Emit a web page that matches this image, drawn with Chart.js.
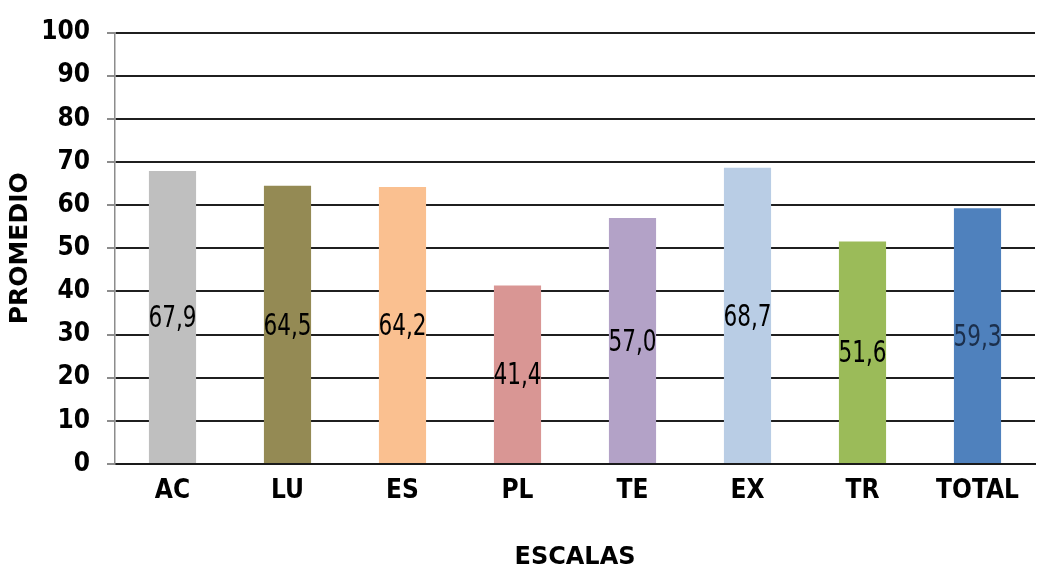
<!DOCTYPE html>
<html lang="es">
<head>
    <meta charset="UTF-8">
    <title>Promedio por escalas</title>
    <script src="https://cdn.jsdelivr.net/npm/chart.js"></script>
    <style>
        body {
            margin: 0;
            background: #ffffff;
        }

        #grafico {
            display: block;
        }
    </style>
</head>
<body>
    <canvas id="grafico" width="1042" height="570"></canvas>
    <script>
        // Escalas y promedios
        var escalas = ['AC', 'LU', 'ES', 'PL', 'TE', 'EX', 'TR', 'TOTAL'];
        var promedios = [67.9, 64.5, 64.2, 41.4, 57.0, 68.7, 51.6, 59.3];
        var colores = ['#BFBFBF', '#948A54', '#FAC090', '#D99694', '#B3A2C7', '#B9CDE5', '#9BBB59', '#4F81BD'];
        var coloresEtiqueta = ['#000', '#000', '#000', '#000', '#000', '#000', '#000', '#1B2F4C'];
        var marcasY = [0, 10, 20, 30, 40, 50, 60, 70, 80, 90, 100];

        var fuenteAngosta = '"Liberation Sans Narrow", "DejaVu Sans Condensed", "Arial Narrow", sans-serif';
        var fuenteTitulo = '"DejaVu Sans", "Liberation Sans", sans-serif';

        // Valor de cada barra, escrito en la mitad de su altura (letra algo alargada)
        var etiquetasValor = {
            id: 'etiquetasValor',
            afterDatasetsDraw: function (chart) {
                var ctx = chart.ctx;
                var escalaY = chart.scales.y;
                var barras = chart.getDatasetMeta(0).data;
                var alto = 1.25;
                ctx.save();
                ctx.font = '24px ' + fuenteAngosta;
                ctx.textAlign = 'center';
                ctx.textBaseline = 'middle';
                barras.forEach(function (barra, i) {
                    var v = promedios[i];
                    var y = escalaY.getPixelForValue(v / 2) + 2;
                    ctx.save();
                    ctx.translate(barra.x, y);
                    ctx.scale(1, alto);
                    ctx.fillStyle = coloresEtiqueta[i];
                    ctx.fillText(v.toFixed(1).replace('.', ','), 0, 0);
                    ctx.restore();
                });
                ctx.restore();
            }
        };

        var grafico = new Chart(document.getElementById('grafico'), {
            type: 'bar',
            data: {
                labels: escalas,
                datasets: [{
                    data: promedios,
                    backgroundColor: colores,
                    borderWidth: 0,
                    barPercentage: 0.41,
                    categoryPercentage: 1
                }]
            },
            options: {
                responsive: false,
                animation: false,
                layout: {
                    padding: { left: 0, top: 25, right: 7, bottom: 0 }
                },
                plugins: {
                    legend: { display: false },
                    tooltip: { enabled: false }
                },
                scales: {
                    x: {
                        afterFit: function (scale) { scale.height = 106; },
                        grid: { display: false, drawTicks: false },
                        border: { display: true, color: '#1a1a1a', width: 2 },
                        ticks: {
                            color: '#000',
                            padding: 12,
                            font: { family: fuenteAngosta, size: 26, weight: 'bold' }
                        },
                        title: {
                            display: true,
                            text: 'ESCALAS',
                            color: '#000',
                            padding: { top: 0, bottom: 0 },
                            font: { family: fuenteTitulo, size: 24, weight: 'bold', lineHeight: 1 }
                        }
                    },
                    y: {
                        min: 0,
                        max: 100,
                        afterFit: function (scale) { scale.width = 115; },
                        afterBuildTicks: function (scale) {
                            scale.ticks = marcasY.map(function (v) { return { value: v }; });
                        },
                        grid: {
                            color: '#1f1f1f',
                            lineWidth: 2,
                            tickColor: '#8c8c8c',
                            tickLength: 8
                        },
                        border: { display: true, color: '#8c8c8c', width: 1.5 },
                        ticks: {
                            color: '#000',
                            padding: 17,
                            font: { family: fuenteAngosta, size: 26, weight: 'bold' }
                        },
                        title: {
                            display: true,
                            text: 'PROMEDIO',
                            color: '#000',
                            padding: { top: 8, bottom: 0 },
                            font: { family: fuenteTitulo, size: 25, weight: 'bold', lineHeight: 1 }
                        }
                    }
                }
            },
            plugins: [etiquetasValor]
        });
    </script>
</body>
</html>
